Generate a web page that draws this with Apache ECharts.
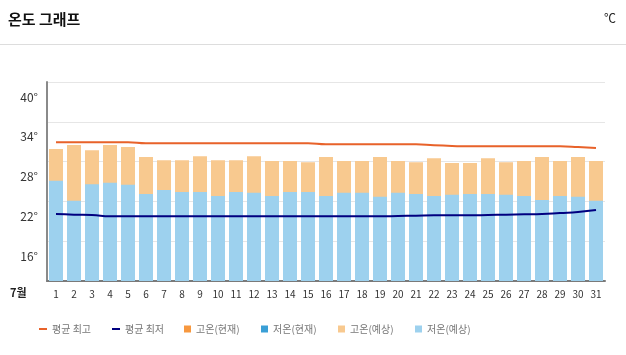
<!DOCTYPE html>
<html><head><meta charset="utf-8">
<script src="https://cdn.jsdelivr.net/npm/echarts@6/dist/echarts.min.js"></script>
<style>html,body{margin:0;padding:0;background:#fff}#c{width:626px;height:355px}</style>
</head><body><div id="c"></div>
<script>
const days = ['1','2','3','4','5','6','7','8','9','10','11','12','13','14','15','16','17','18','19','20','21','22','23','24','25','26','27','28','29','30','31'];
const avgHigh = [30.9,30.9,30.9,30.9,30.9,30.75,30.75,30.75,30.75,30.75,30.75,30.75,30.75,30.75,30.75,30.6,30.6,30.6,30.6,30.6,30.6,30.45,30.35,30.3,30.3,30.3,30.3,30.3,30.3,30.2,30.05];
const avgLow = [20.1,20.0,19.95,19.75,19.75,19.75,19.75,19.75,19.75,19.75,19.75,19.75,19.75,19.75,19.75,19.75,19.75,19.75,19.75,19.8,19.85,19.9,19.9,19.9,19.95,20.0,20.05,20.1,20.25,20.4,20.7];
const highCurrent = [];
const lowCurrent = [];
const highForecast = [29.9,30.5,29.7,30.5,30.2,28.7,28.2,28.2,28.8,28.2,28.2,28.8,28.1,28.1,27.9,28.7,28.1,28.1,28.7,28.1,27.9,28.5,27.8,27.8,28.5,27.9,28.1,28.7,28.1,28.7,28.1];
const lowForecast = [25.1,22.1,24.6,24.8,24.5,23.1,23.7,23.4,23.4,22.8,23.4,23.3,22.8,23.4,23.4,22.8,23.3,23.3,22.7,23.3,23.1,22.8,23.0,23.1,23.1,23.0,22.8,22.2,22.8,22.7,22.1];
const yTicks = [10,16,22,28,34,40];
const title = '온도 그래프';
const unit = '℃';
const monthLabel = '7월';
const legendNames = ['평균 최고','평균 최저','고온(현재)','저온(현재)','고온(예상)','저온(예상)'];

const F = '"Noto Sans CJK KR","Noto Sans",sans-serif';
const legendLeft = [34,107,179,256,333,410];
const legends = legendNames.map((n,i)=>({
  top:319, left:legendLeft[i], itemGap:0,
  itemWidth:i<2?8:7, itemHeight:i<2?2:7, icon:'rect',
  textStyle:{color:'#777', fontSize:10, fontFamily:F},
  data:[n]
}));
const chart = echarts.init(document.getElementById('c'), null, {renderer:'canvas'});
chart.setOption({
  animation:false,
  textStyle:{fontFamily:F},
  graphic:[
    {type:'text', left:8, top:12, style:{text:title, font:'bold 15px '+F, fill:'#111'}},
    {type:'text', right:10, top:12, style:{text:unit, font:'12px '+F, fill:'#222'}},
    {type:'rect', shape:{x:0,y:44,width:626,height:1}, style:{fill:'#dddddd'}},
    {type:'text', left:10, top:287, style:{text:monthLabel, font:'bold 11px '+F, fill:'#222'}}
  ],
  legend:legends,
  grid:{left:47, right:21, top:82, bottom:74},
  xAxis:{
    type:'category', data:days, boundaryGap:true,
    axisLine:{lineStyle:{color:'#7a7a7a', width:2}},
    axisTick:{show:false},
    axisLabel:{fontSize:10, color:'#333', margin:8, interval:0}
  },
  yAxis:{
    type:'value', min:10, max:40, interval:6,
    axisLine:{show:true, lineStyle:{color:'#8a8a8a', width:2}},
    axisTick:{show:false},
    splitLine:{lineStyle:{color:'#e6e6e6'}},
    axisLabel:{fontSize:12, color:'#333', margin:9, verticalAlign:'top', padding:[9,0,0,0],
      formatter:v=> (v===10 ? '' : v+'°')}
  },
  series:[
    {name:legendNames[2], type:'bar', data:highCurrent, itemStyle:{color:'#f7983f'}, barWidth:14, barGap:'-100%'},
    {name:legendNames[3], type:'bar', data:lowCurrent, itemStyle:{color:'#3a9fd6'}, barWidth:14, barGap:'-100%'},
    {name:legendNames[4], type:'bar', data:highForecast, itemStyle:{color:'#f8c98f'}, barWidth:14, barGap:'-100%'},
    {name:legendNames[5], type:'bar', data:lowForecast, itemStyle:{color:'#9dd1ee'}, barWidth:14, barGap:'-100%'},
    {name:legendNames[0], type:'line', data:avgHigh, symbol:'none', smooth:true, lineStyle:{color:'#e8622a', width:2}, itemStyle:{color:'#e8622a'}, z:5},
    {name:legendNames[1], type:'line', data:avgLow, symbol:'none', smooth:true, lineStyle:{color:'#000080', width:2}, itemStyle:{color:'#000080'}, z:5}
  ]
});
</script></body></html>
